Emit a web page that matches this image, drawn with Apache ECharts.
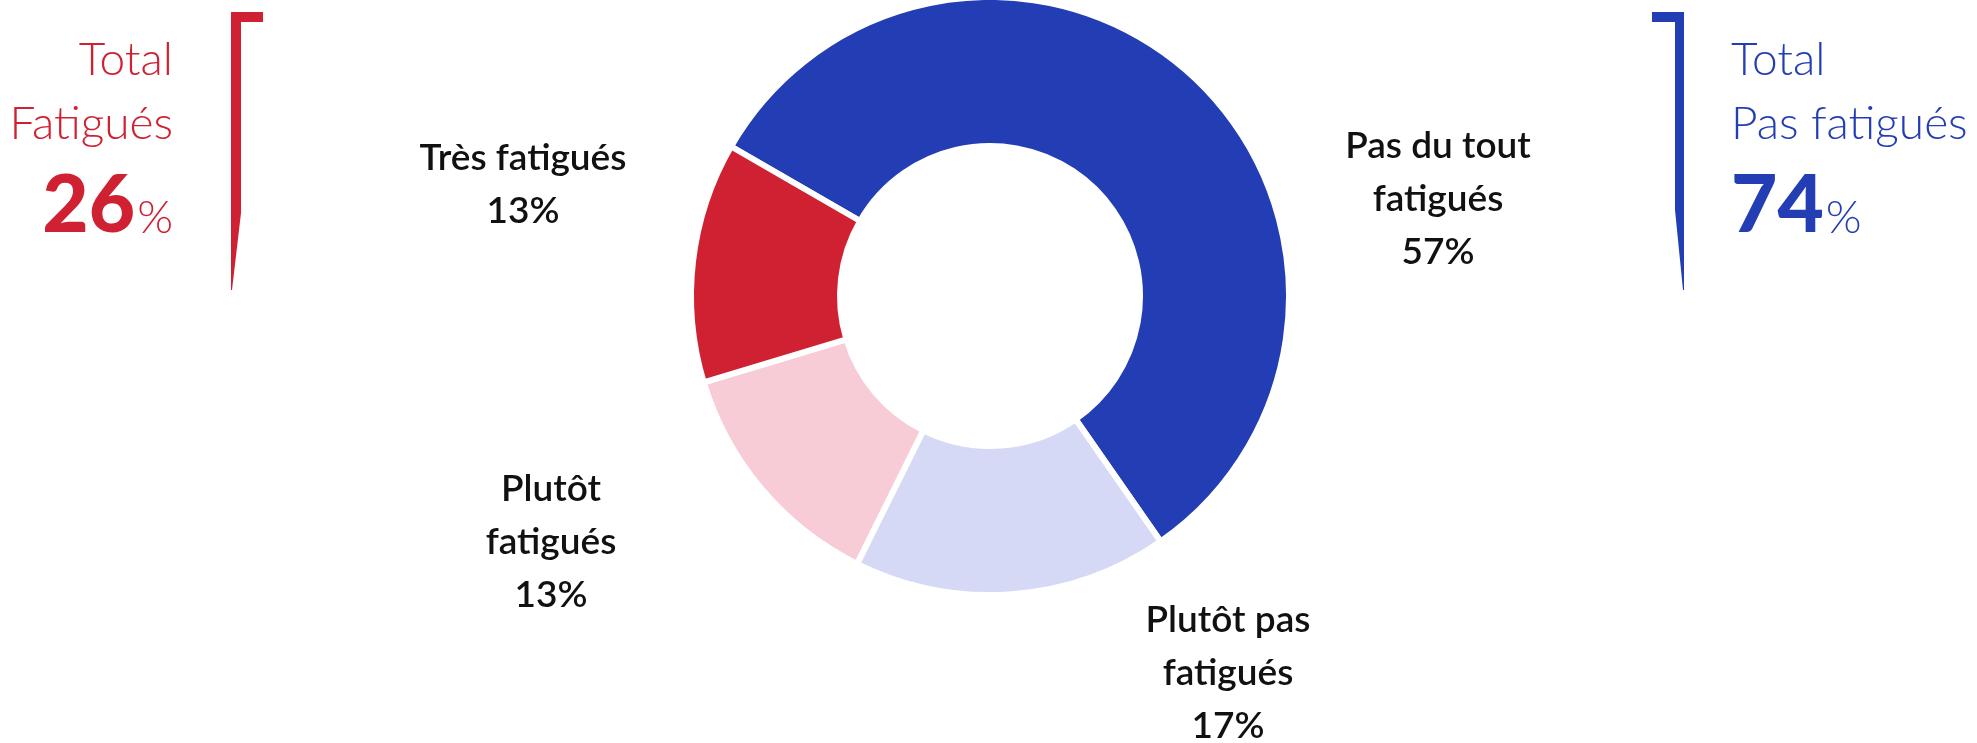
<!DOCTYPE html>
<html>
<head>
<meta charset="utf-8">
<script src="https://cdn.jsdelivr.net/npm/echarts@6/dist/echarts.min.js"></script>
<style>
  html, body { margin: 0; padding: 0; background: #ffffff; }
  #chart { width: 1977px; height: 743px; }
</style>
</head>
<body>
<div id="chart"></div>
<script>
// ---- data ----
const categories = ['Pas du tout\nfatigués', 'Plutôt pas\nfatigués', 'Plutôt\nfatigués', 'Très fatigués'];
const values = [57, 17, 13, 13];
const fatiguedIdx = [2, 3];
const notFatiguedIdx = [0, 1];
const totalTitles = ['Total\nFatigués', 'Total\nPas fatigués'];

// ---- styles / layout ----
const sliceColors = ['#233db4', '#d5d9f5', '#f7ccd6', '#cf2131'];
const RED = '#cf2131';
const BLUE = '#233db4';
const labelAnchors = [[1438, 199], [1228, 673], [551, 542], [523, 185]];
const FONT = 'Lato, "Open Sans", "Noto Sans", sans-serif';

const sum = idx => idx.reduce((a, i) => a + values[i], 0);
const totalFat = sum(fatiguedIdx);
const totalNot = sum(notFatiguedIdx);

function textWidth(str, font) {
  const c = document.createElement('canvas').getContext('2d');
  c.font = font;
  return c.measureText(str).width;
}

const bigFont = '900 80px ' + FONT;
const pctFont = '300 46px ' + FONT;
const thinFont = '300 46px ' + FONT;

const pctW = textWidth('%', pctFont);
const notNumW = textWidth(String(totalNot), bigFont);

const chart = echarts.init(document.getElementById('chart'), null, { renderer: 'canvas' });

chart.setOption({
  backgroundColor: '#ffffff',
  animation: false,
  series: [{
    type: 'pie',
    center: [990, 296],
    radius: [150, 299],
    startAngle: 150,
    clockwise: true,
    avoidLabelOverlap: false,
    itemStyle: { borderColor: '#ffffff', borderWidth: 6 },
    label: {
      show: true,
      position: 'outside',
      formatter: p => p.name + '\n' + p.value + '%',
      fontFamily: FONT,
      fontSize: 37,
      fontWeight: 600,
      lineHeight: 53,
      color: '#111111',
      align: 'center'
    },
    labelLine: { show: false },
    labelLayout: params => {
      const a = labelAnchors[params.dataIndex];
      return { x: a[0], y: a[1], align: 'center', verticalAlign: 'middle' };
    },
    emphasis: { disabled: true },
    data: categories.map((c, i) => ({
      name: c, value: values[i], itemStyle: { color: sliceColors[i] }
    }))
  }],
  graphic: [
    // red bracket
    { type: 'polygon', shape: { points: [[231, 12], [263, 12], [263, 22], [241, 22], [241, 213], [232, 290], [231, 290]] }, style: { fill: RED } },
    // blue bracket
    { type: 'polygon', shape: { points: [[1652, 12], [1684, 12], [1684, 290], [1683, 290], [1675, 210], [1675, 22], [1652, 22]] }, style: { fill: BLUE } },
    // red titles
    { type: 'text', x: 173, y: 60, style: { text: totalTitles[0].split('\n')[0], font: thinFont, fill: RED, align: 'right', verticalAlign: 'middle' } },
    { type: 'text', x: 173, y: 124, style: { text: totalTitles[0].split('\n')[1], font: thinFont, fill: RED, align: 'right', verticalAlign: 'middle' } },
    { type: 'text', x: 173 - pctW - 2, y: 206, style: { text: String(totalFat), font: bigFont, fill: RED, align: 'right', verticalAlign: 'middle' } },
    { type: 'text', x: 173, y: 218, style: { text: '%', font: pctFont, fill: RED, align: 'right', verticalAlign: 'middle' } },
    // blue titles
    { type: 'text', x: 1731, y: 60, style: { text: totalTitles[1].split('\n')[0], font: thinFont, fill: BLUE, align: 'left', verticalAlign: 'middle' } },
    { type: 'text', x: 1731, y: 124, style: { text: totalTitles[1].split('\n')[1], font: thinFont, fill: BLUE, align: 'left', verticalAlign: 'middle' } },
    { type: 'text', x: 1731, y: 206, style: { text: String(totalNot), font: bigFont, fill: BLUE, align: 'left', verticalAlign: 'middle' } },
    { type: 'text', x: 1731 + notNumW + 2, y: 218, style: { text: '%', font: pctFont, fill: BLUE, align: 'left', verticalAlign: 'middle' } }
  ]
});
</script>
</body>
</html>
